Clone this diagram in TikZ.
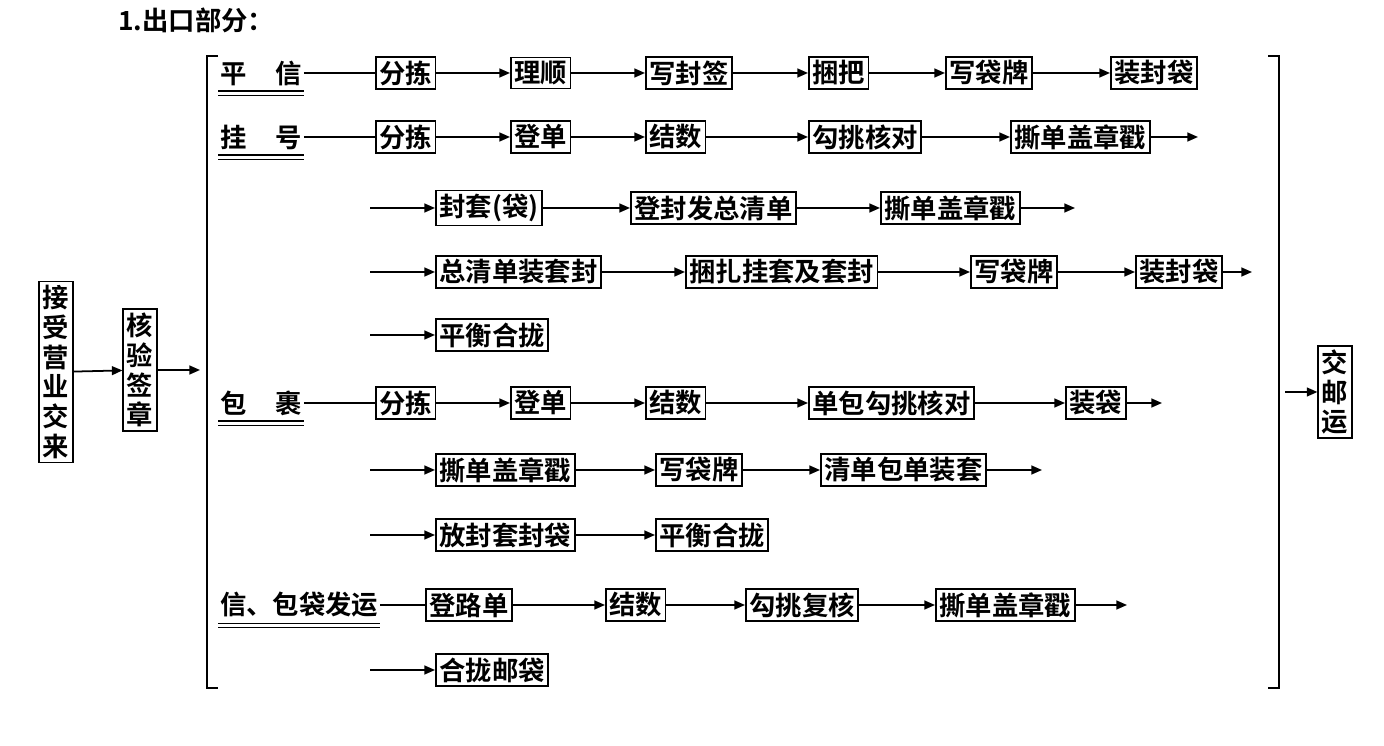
\documentclass[tikz,border=0pt]{standalone}
\usepackage{fontspec}
\setmainfont{Noto Sans CJK SC Bold}
\usetikzlibrary{arrows.meta}
\tikzset{
  box/.style={draw, line width=1pt, inner sep=2pt, anchor=west, font=\fontsize{15}{15}\selectfont},
  lab/.style={inner sep=1pt, anchor=west, font=\fontsize{15}{15}\selectfont},
  vbox/.style={draw, line width=1pt, inner sep=2pt, align=center, font=\fontsize{15}{17}\selectfont},
  go/.style={-{Triangle[length=6pt,width=5pt]}, line width=1pt},
  ln/.style={line width=1pt}
}
\newcommand{\dul}[1]{%
  \draw[line width=0.8pt] ([yshift=-2pt]#1.south west) -- ([yshift=-2pt]#1.south east);
  \draw[line width=0.8pt] ([yshift=-4.5pt]#1.south west) -- ([yshift=-4.5pt]#1.south east);}
\begin{document}
\begin{tikzpicture}[x=0.02cm, y=-0.02cm]
    \useasboundingbox (0,0) rectangle (1384,746);
    \node[anchor=west, font=\fontsize{15}{15}\selectfont] (title) at (112,20) {1.出口部分：};
    % left side
    \node[vbox] (jieshou) at (56,372) {接\\受\\营\\业\\交\\来};
    \node[vbox] (heyan) at (140,370) {核\\验\\签\\章};
    \coordinate (bl) at (200,370);
    \draw[go] (jieshou) -- (heyan);
    \draw[go] (heyan) -- (bl);
    % brackets
    \draw[ln] (218,56) -- (207,56) -- (207,688) -- (218,688);
    \draw[ln] (1268,56) -- (1279,56) -- (1279,688) -- (1268,688);
    \node[vbox] (jiaoyou) at (1335,392) {交\\邮\\运};
    \coordinate (br) at (1285,392);
    \draw[go] (br) -- (jiaoyou);
    % ping xin
    \node[lab] (px) at (218,73) {平\hspace{1.1em}信};
    \node[box] (px1) at (375,73) {分拣};
    \node[box] (px2) at (510,73) {理顺};
    \node[box] (px3) at (645,73) {写封签};
    \node[box] (px4) at (808,73) {捆把};
    \node[box] (px5) at (945,73) {写袋牌};
    \node[box] (px6) at (1110,73) {装封袋};
    \dul{px}
    \draw[ln] (px) -- (px1);
    \draw[go] (px1) -- (px2);
    \draw[go] (px2) -- (px3);
    \draw[go] (px3) -- (px4);
    \draw[go] (px4) -- (px5);
    \draw[go] (px5) -- (px6);
    % gua hao
    \node[lab] (gh) at (218,137) {挂\hspace{1.1em}号};
    \node[box] (gh1) at (375,137) {分拣};
    \node[box] (gh2) at (510,137) {登单};
    \node[box] (gh3) at (645,137) {结数};
    \node[box] (gh4) at (808,137) {勾挑核对};
    \node[box] (gh5) at (1010,137) {撕单盖章戳};
    \coordinate (gh6) at (1198,137);
    \dul{gh}
    \draw[ln] (gh) -- (gh1);
    \draw[go] (gh1) -- (gh2);
    \draw[go] (gh2) -- (gh3);
    \draw[go] (gh3) -- (gh4);
    \draw[go] (gh4) -- (gh5);
    \draw[go] (gh5) -- (gh6);
    \coordinate (gh7) at (370,208);
    \node[box] (gh8) at (435,208) {封套(袋)};
    \node[box] (gh9) at (630,208) {登封发总清单};
    \node[box] (gh10) at (880,208) {撕单盖章戳};
    \coordinate (gh11) at (1075,208);
    \draw[go] (gh7) -- (gh8);
    \draw[go] (gh8) -- (gh9);
    \draw[go] (gh9) -- (gh10);
    \draw[go] (gh10) -- (gh11);
    \coordinate (gh12) at (370,272);
    \node[box] (gh13) at (435,272) {总清单装套封};
    \node[box] (gh14) at (685,272) {捆扎挂套及套封};
    \node[box] (gh15) at (970,272) {写袋牌};
    \node[box] (gh16) at (1135,272) {装封袋};
    \coordinate (gh17) at (1252,272);
    \draw[go] (gh12) -- (gh13);
    \draw[go] (gh13) -- (gh14);
    \draw[go] (gh14) -- (gh15);
    \draw[go] (gh15) -- (gh16);
    \draw[go] (gh16) -- (gh17);
    \coordinate (gh18) at (370,335);
    \node[box] (gh19) at (435,335) {平衡合拢};
    \draw[go] (gh18) -- (gh19);
    % bao guo
    \node[lab] (bg) at (218,403) {包\hspace{1.1em}裹};
    \node[box] (bg1) at (375,403) {分拣};
    \node[box] (bg2) at (510,403) {登单};
    \node[box] (bg3) at (645,403) {结数};
    \node[box] (bg4) at (808,403) {单包勾挑核对};
    \node[box] (bg5) at (1065,403) {装袋};
    \coordinate (bg6) at (1162,403);
    \dul{bg}
    \draw[ln] (bg) -- (bg1);
    \draw[go] (bg1) -- (bg2);
    \draw[go] (bg2) -- (bg3);
    \draw[go] (bg3) -- (bg4);
    \draw[go] (bg4) -- (bg5);
    \draw[go] (bg5) -- (bg6);
    \coordinate (bg7) at (370,470);
    \node[box] (bg8) at (435,470) {撕单盖章戳};
    \node[box] (bg9) at (655,470) {写袋牌};
    \node[box] (bg10) at (820,470) {清单包单装套};
    \coordinate (bg11) at (1042,470);
    \draw[go] (bg7) -- (bg8);
    \draw[go] (bg8) -- (bg9);
    \draw[go] (bg9) -- (bg10);
    \draw[go] (bg10) -- (bg11);
    \coordinate (bg12) at (370,535);
    \node[box] (bg13) at (435,535) {放封套封袋};
    \node[box] (bg14) at (655,535) {平衡合拢};
    \draw[go] (bg12) -- (bg13);
    \draw[go] (bg13) -- (bg14);
    % xin bao dai fa yun
    \node[lab] (fy) at (218,605) {信、包袋发运};
    \node[box] (fy1) at (425,605) {登路单};
    \node[box] (fy2) at (605,605) {结数};
    \node[box] (fy3) at (745,605) {勾挑复核};
    \node[box] (fy4) at (935,605) {撕单盖章戳};
    \coordinate (fy5) at (1127,605);
    \dul{fy}
    \draw[ln] (fy) -- (fy1);
    \draw[go] (fy1) -- (fy2);
    \draw[go] (fy2) -- (fy3);
    \draw[go] (fy3) -- (fy4);
    \draw[go] (fy4) -- (fy5);
    \coordinate (fy6) at (370,670);
    \node[box] (fy7) at (435,670) {合拢邮袋};
    \draw[go] (fy6) -- (fy7);
\end{tikzpicture}
\end{document}
